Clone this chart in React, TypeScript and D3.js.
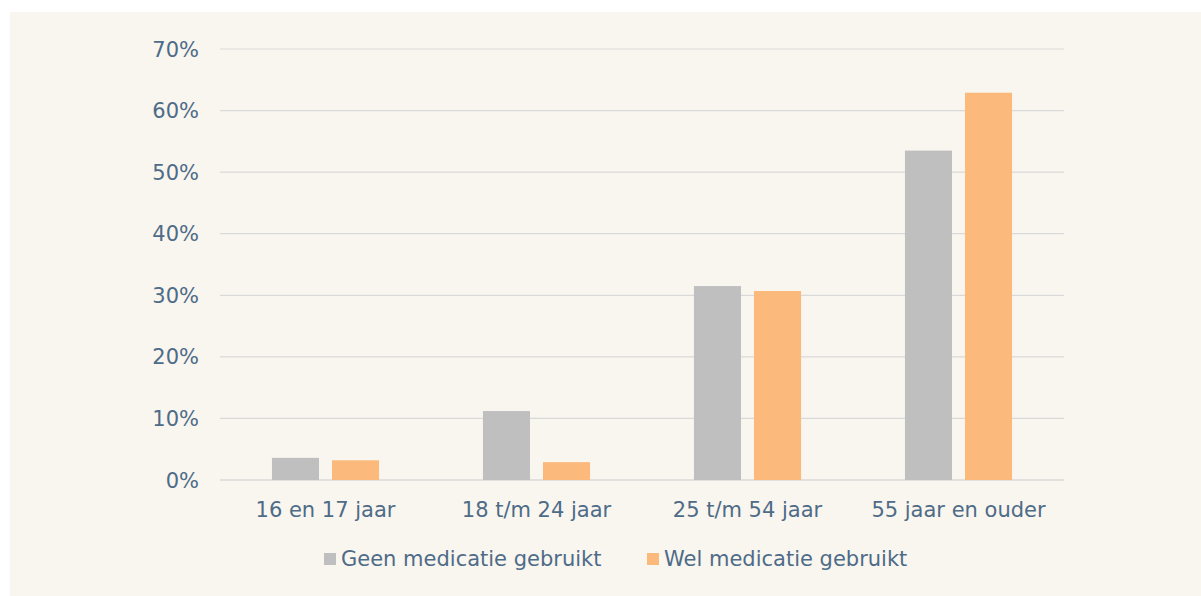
import { useEffect, useRef } from 'react';
import * as d3 from 'd3';

const CATEGORIES = ['16 en 17 jaar', '18 t/m 24 jaar', '25 t/m 54 jaar', '55 jaar en ouder'];
const SERIES = ['Geen medicatie gebruikt', 'Wel medicatie gebruikt'];
const GEEN = [3.6, 11.2, 31.5, 53.5];
const WEL = [3.2, 2.9, 30.7, 62.9];
const Y_TICKS = [0, 10, 20, 30, 40, 50, 60, 70];

const COLORS = ['#bfbfbf', '#fbb97b'];
const TEXT = '#4e6b87';
const FONT = '"DejaVu Sans", Verdana, sans-serif';
const FS = 21;

export default function App() {
  const svgRef = useRef<SVGSVGElement>(null);

  useEffect(() => {
    const W = 1201;
    const H = 596;
    const M = { top: 49, right: 137, bottom: 116, left: 220 };

    const svg = d3.select(svgRef.current);
    svg.selectAll('*').remove();
    svg.attr('width', W).attr('height', H);

    svg.append('rect').attr('width', W).attr('height', H).attr('fill', '#ffffff');
    // panel
    svg.append('rect').attr('x', 10).attr('y', 12).attr('width', W - 10).attr('height', H - 12).attr('fill', '#f9f6f0');

    const x = d3.scaleBand().domain(CATEGORIES).range([M.left, W - M.right]);
    const y = d3.scaleLinear().domain([0, 70]).range([H - M.bottom, M.top]);

    const g = svg.append('g').attr('font-family', FONT);

    // gridlines + y labels
    Y_TICKS.forEach((t) => {
      g.append('line')
        .attr('x1', M.left).attr('x2', W - M.right)
        .attr('y1', y(t)).attr('y2', y(t))
        .attr('stroke', '#d9d9d9').attr('stroke-width', t === 0 ? 1.5 : 1.2);
      g.append('text')
        .attr('x', M.left - 21).attr('y', y(t)).attr('dy', '0.36em')
        .attr('text-anchor', 'end').attr('fill', TEXT).attr('font-size', FS)
        .text(`${t}%`);
    });

    // bars
    const barW = x.bandwidth() * 0.223;
    const gap = 13;
    const data = [GEEN, WEL];
    CATEGORIES.forEach((c, i) => {
      const cx = (x(c) ?? 0) + x.bandwidth() / 2;
      data.forEach((vals, s) => {
        const bx = s === 0 ? cx - gap / 2 - barW : cx + gap / 2;
        g.append('rect')
          .attr('x', bx).attr('y', y(vals[i]))
          .attr('width', barW).attr('height', y(0) - y(vals[i]))
          .attr('fill', COLORS[s]);
      });
      g.append('text')
        .attr('x', cx).attr('y', 517)
        .attr('text-anchor', 'middle').attr('fill', TEXT).attr('font-size', FS)
        .text(c);
    });

    // legend
    const legendX = [324, 647];
    SERIES.forEach((s, i) => {
      g.append('rect')
        .attr('x', legendX[i]).attr('y', 553).attr('width', 12).attr('height', 12)
        .attr('fill', COLORS[i]);
      g.append('text')
        .attr('x', legendX[i] + 17).attr('y', 566)
        .attr('fill', TEXT).attr('font-size', FS)
        .text(s);
    });
  }, []);

  return (
    <div>
      <style>{'body{margin:0}'}</style>
      <svg ref={svgRef} style={{ display: 'block' }} />
    </div>
  );
}
